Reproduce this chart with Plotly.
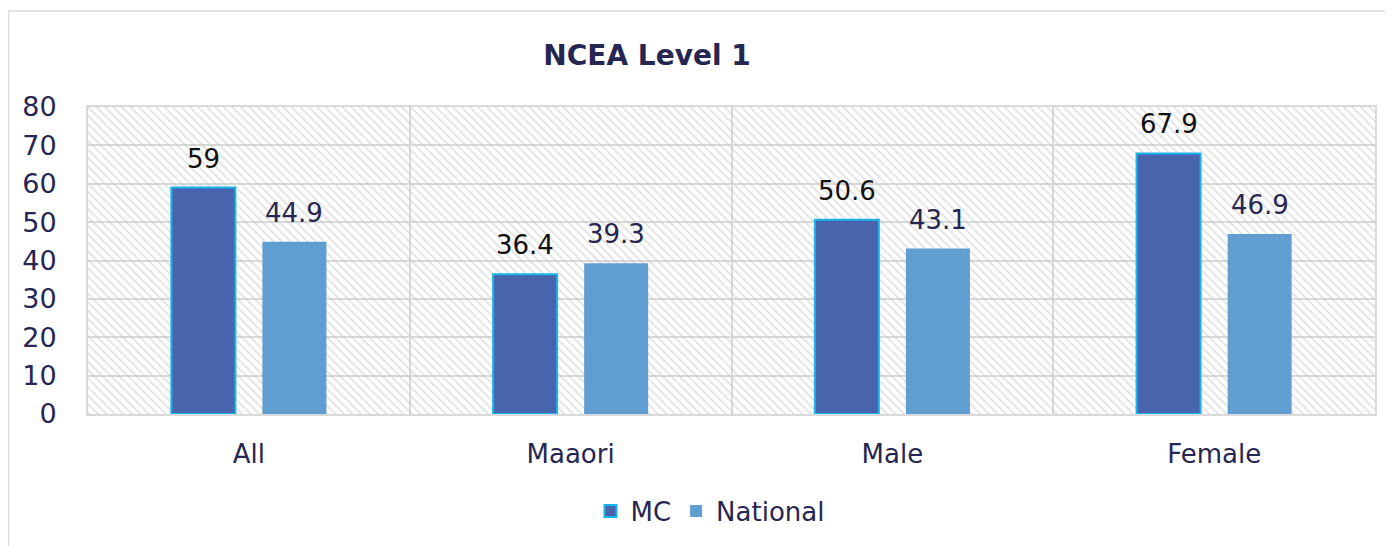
import plotly.graph_objects as go

categories = ["All", "Maaori", "Male", "Female"]
mc_values = [59, 36.4, 50.6, 67.9]
national_values = [44.9, 39.3, 43.1, 46.9]
series_names = ["MC", "National"]
y_ticks = [0, 10, 20, 30, 40, 50, 60, 70, 80]
title_text = "NCEA Level 1"

# page body has an 8px margin, so figure coordinates are screen - 8
OFF = 8
W, H = 1393 - OFF, 546 - OFF
ML, MT = 88 - OFF, 107 - OFF
MR = W - (1375 - OFF)
MB = H - (414 - OFF)
PW = W - ML - MR
PH = H - MT - MB
BARGAP = 0.434
BARGROUPGAP = 0.297

NAVY = "#262652"
GRID = "#d9d9d9"
FONT = "DejaVu Sans"

fig = go.Figure()

# hatched background
fig.add_trace(go.Bar(
    x=categories, y=[max(y_ticks)] * len(categories), width=1,
    marker=dict(color="rgba(0,0,0,0)", line=dict(width=0),
                pattern=dict(shape="\\", fgcolor="#c4c4c4", bgcolor="rgba(0,0,0,0)",
                             size=6, solidity=0.3)),
    showlegend=False, hoverinfo="skip", xaxis="x", yaxis="y",
))

fig.add_trace(go.Bar(
    name=series_names[0], x=categories, y=mc_values,
    marker=dict(color="#4864ac", line=dict(color="#18b4ec", width=2)),
    xaxis="x2", yaxis="y",
))
fig.add_trace(go.Bar(
    name=series_names[1], x=categories, y=national_values,
    marker=dict(color="#609dd1", line=dict(width=0)),
    xaxis="x2", yaxis="y",
))

slot_px = PW / len(categories) * (1 - BARGAP) / 2
annotations = []
for vals, sign, col in [(mc_values, -1, "#111111"), (national_values, 1, NAVY)]:
    for c, v in zip(categories, vals):
        annotations.append(dict(
            x=c, y=v, xref="x2", yref="y", text=str(v), showarrow=False,
            xanchor="center", yanchor="bottom", xshift=sign * slot_px / 2, yshift=12,
            font=dict(family=FONT, size=26, color=col),
        ))

shapes = [dict(
    type="rect", xref="paper", yref="paper",
    x0=(0.5 - ML) / PW, x1=(W + 20 - ML) / PW,
    y0=-(H + 20 - MT - PH) / PH, y1=1 + (MT - 3) / PH,
    line=dict(color=GRID, width=1.5), fillcolor="rgba(0,0,0,0)", layer="below",
)]

fig.update_layout(
    width=W, height=H,
    margin=dict(l=ML, r=MR, t=MT, b=MB),
    paper_bgcolor="white", plot_bgcolor="white",
    barmode="group", bargap=BARGAP, bargroupgap=BARGROUPGAP,
    title=dict(text="<b>" + title_text + "</b>", x=(647 - OFF) / W, xanchor="center",
               y=1 - (55 - OFF) / H, yanchor="middle",
               font=dict(family=FONT, size=28, color=NAVY)),
    xaxis=dict(type="category", categoryarray=categories, categoryorder="array",
               range=[-0.5, len(categories) - 0.5], tickson="boundaries",
               showgrid=True, gridcolor=GRID, gridwidth=1.5,
               showline=True, linecolor=GRID, linewidth=2, mirror=True,
               ticks="", ticklabelstandoff=16,
               tickfont=dict(family=FONT, size=26, color=NAVY)),
    xaxis2=dict(type="category", categoryarray=categories, categoryorder="array",
                overlaying="x", range=[-0.5, len(categories) - 0.5],
                visible=False),
    yaxis=dict(range=[0, max(y_ticks)], tickvals=y_ticks, showgrid=True,
               gridcolor=GRID, gridwidth=1.5, zeroline=False,
               showline=True, linecolor=GRID, linewidth=2, mirror=True,
               ticks="", ticklabelstandoff=24,
               tickfont=dict(family=FONT, size=27, color=NAVY)),
    legend=dict(orientation="h", xref="container", yref="container",
                x=(710 - OFF) / W, xanchor="center", y=1 - (511 - OFF) / H, yanchor="middle",
                font=dict(family=FONT, size=26, color=NAVY), traceorder="normal",
                itemwidth=30),
    annotations=annotations, shapes=shapes,
    font=dict(family=FONT),
)

fig.write_html("out.html")
